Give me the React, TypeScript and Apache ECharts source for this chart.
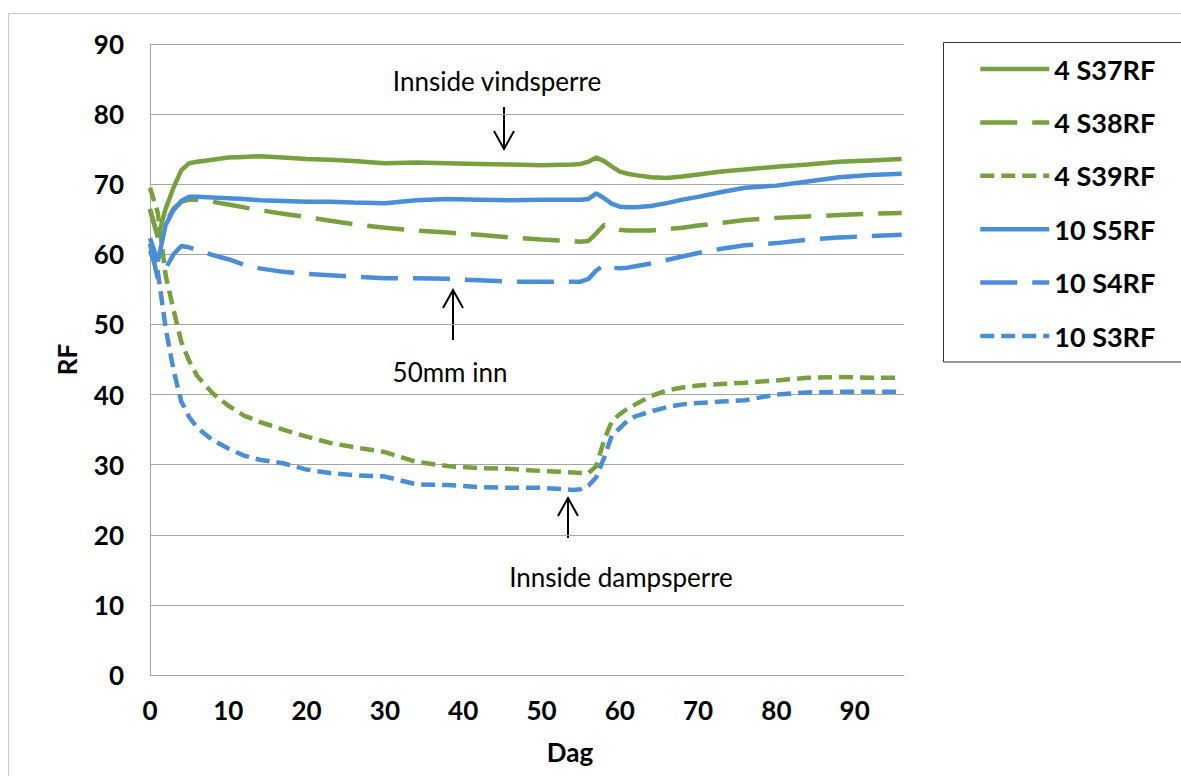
import React, { useEffect, useRef } from "react";
import * as echarts from "echarts";

const days = [0, 1, 2, 3, 4, 5, 6, 8, 10, 12, 14, 17, 20, 23, 26, 30, 34, 38, 42, 46, 50, 54, 55, 56, 57, 58, 59, 60, 61, 62, 64, 66, 68, 70, 73, 76, 80, 84, 88, 92, 96];

const s37 = [66.3, 62.5, 66.5, 69.5, 72.0, 73.0, 73.2, 73.5, 73.8, 73.9, 74.0, 73.8, 73.6, 73.5, 73.3, 73.0, 73.1, 73.0, 72.9, 72.8, 72.7, 72.8, 72.9, 73.2, 73.8, 73.3, 72.5, 71.8, 71.5, 71.3, 71.0, 70.9, 71.1, 71.4, 71.8, 72.1, 72.5, 72.8, 73.2, 73.4, 73.6];
const s38 = [66.5, 62.5, 64.5, 66.5, 67.5, 67.8, 67.8, 67.5, 67.1, 66.7, 66.3, 65.8, 65.3, 64.8, 64.3, 63.8, 63.4, 63.1, 62.8, 62.4, 62.1, 61.9, 61.8, 61.9, 63.0, 64.2, 63.8, 63.5, 63.4, 63.4, 63.4, 63.6, 63.8, 64.1, 64.5, 64.9, 65.2, 65.4, 65.6, 65.8, 65.9];
const s39 = [69.5, 65.9, 57.0, 52.1, 47.5, 44.8, 42.7, 40.2, 38.4, 37.0, 36.1, 35.0, 34.0, 33.1, 32.5, 31.8, 30.4, 29.8, 29.5, 29.4, 29.1, 28.9, 28.8, 28.8, 29.8, 33.5, 36.2, 37.2, 38.0, 38.6, 39.8, 40.6, 41.0, 41.3, 41.5, 41.7, 42.0, 42.4, 42.5, 42.4, 42.4];
const s5 = [62.3, 59.0, 64.2, 66.3, 67.6, 68.2, 68.2, 68.1, 68.0, 67.9, 67.7, 67.6, 67.5, 67.5, 67.4, 67.3, 67.7, 67.9, 67.8, 67.7, 67.8, 67.8, 67.8, 67.9, 68.7, 68.0, 67.2, 66.8, 66.7, 66.7, 66.9, 67.3, 67.8, 68.2, 68.9, 69.5, 69.8, 70.4, 71.0, 71.3, 71.5];
const s4 = [61.5, 56.5, 58.0, 60.0, 61.2, 61.0, 60.6, 59.9, 59.3, 58.5, 58.0, 57.5, 57.2, 57.0, 56.8, 56.6, 56.6, 56.5, 56.3, 56.1, 56.1, 56.1, 56.1, 56.5, 57.7, 58.5, 58.1, 58.0, 58.1, 58.3, 58.7, 59.2, 59.7, 60.2, 60.8, 61.3, 61.6, 62.1, 62.4, 62.6, 62.8];
const s3 = [60.5, 57.5, 49.5, 43.5, 39.0, 36.8, 35.3, 33.5, 32.3, 31.3, 30.7, 30.2, 29.3, 28.8, 28.5, 28.3, 27.2, 27.1, 26.8, 26.7, 26.7, 26.4, 26.5, 27.0, 28.2, 31.0, 34.2, 35.2, 36.3, 36.9, 37.6, 38.2, 38.6, 38.8, 39.0, 39.2, 40.0, 40.3, 40.4, 40.4, 40.4];

const seriesNames = ["4 S37RF", "4 S38RF", "4 S39RF", "10 S5RF", "10 S4RF", "10 S3RF"];
const seriesValues = [s37, s38, s39, s5, s4, s3];

const GREEN = "#77A13E";
const BLUE = "#4A8ED8";
const seriesColors = [GREEN, GREEN, GREEN, BLUE, BLUE, BLUE];
const LONG_DASH = [37, 15];
const SHORT_DASH = [14, 7];
const seriesDash: any[] = ["solid", LONG_DASH, SHORT_DASH, "solid", LONG_DASH, SHORT_DASH];

const FONT = "Lato, 'Noto Sans', sans-serif";

export default function App() {
  const ref = useRef<HTMLDivElement>(null);

  useEffect(() => {
    if (!ref.current) return;
    const chart = echarts.init(ref.current, undefined, { renderer: "svg" });

    const series = seriesNames.map((name, i) => ({
      name,
      type: "line",
      data: days.map((d, k) => [d, seriesValues[i][k]]),
      symbol: "none",
      showSymbol: false,
      smooth: false,
      lineStyle: { color: seriesColors[i], width: 4.5, type: seriesDash[i] },
      itemStyle: { color: seriesColors[i] },
    }));

    const arrow = (x: number, y1: number, y2: number, up: boolean) => {
      const tip = up ? y1 : y2;
      const back = up ? tip + 18 : tip - 18;
      return [
        { type: "line", shape: { x1: x, y1, x2: x, y2 }, style: { stroke: "#000", lineWidth: 2 } },
        { type: "polyline", shape: { points: [[x - 10, back], [x, tip], [x + 10, back]] }, style: { stroke: "#000", lineWidth: 2, fill: "none" } },
      ];
    };

    const option: any = {
      animation: false,
      backgroundColor: "#fff",
      textStyle: { fontFamily: FONT },
      grid: { left: 150, right: 277, top: 44, bottom: 101, containLabel: false },
      xAxis: {
        type: "value",
        min: 0,
        max: 96.3,
        interval: 10,
        axisLine: { show: true, lineStyle: { color: "#A6A6A6", width: 1 } },
        axisTick: { show: false },
        splitLine: { show: false },
        axisLabel: { showMaxLabel: false, margin: 22, color: "#000", fontFamily: FONT, fontWeight: "bold", fontSize: 26 },
      },
      yAxis: {
        type: "value",
        min: 0,
        max: 90,
        interval: 10,
        name: "RF",
        nameLocation: "middle",
        nameRotate: 90,
        nameGap: 70,
        nameTextStyle: { color: "#000", fontFamily: FONT, fontWeight: "bold", fontSize: 26 },
        axisLine: { show: true, lineStyle: { color: "#A6A6A6", width: 1 } },
        axisTick: { show: false },
        splitLine: { show: true, lineStyle: { color: "#A6A6A6", width: 1 } },
        axisLabel: { margin: 26, color: "#000", fontFamily: FONT, fontWeight: "bold", fontSize: 26 },
      },
      legend: {
        orient: "vertical",
        left: 978,
        top: 54,
        padding: 0,
        itemWidth: 69,
        itemHeight: 14,
        itemGap: 23.4,
        itemStyle: { opacity: 0 },
        lineStyle: { width: 4.5 },
        textStyle: { color: "#000", fontFamily: FONT, fontWeight: "bold", fontSize: 27, lineHeight: 30 },
        data: seriesNames,
      },
      graphic: [
        { type: "rect", silent: true, shape: { x: 8.5, y: 13.5, width: 1200, height: 800 }, style: { fill: "none", stroke: "#C8C8C8", lineWidth: 1 }, z: -10 },
        { type: "rect", silent: true, shape: { x: 943.5, y: 42.5, width: 300, height: 319.5 }, style: { fill: "none", stroke: "#333", lineWidth: 1 } },
        { type: "text", x: 570, y: 752, style: { text: "Dag", font: `bold 26px ${FONT}`, fill: "#000", textAlign: "center", textVerticalAlign: "middle" } },
        { type: "text", x: 497, y: 81, style: { text: "Innside vindsperre", font: `26px ${FONT}`, fill: "#000", textAlign: "center", textVerticalAlign: "middle" } },
        { type: "text", x: 450, y: 372, style: { text: "50mm inn", font: `26px ${FONT}`, fill: "#000", textAlign: "center", textVerticalAlign: "middle" } },
        { type: "text", x: 621, y: 577, style: { text: "Innside dampsperre", font: `26px ${FONT}`, fill: "#000", textAlign: "center", textVerticalAlign: "middle" } },
        ...arrow(504, 107, 149, false),
        ...arrow(453, 290, 340, true),
        ...arrow(568, 498, 538, true),
      ],
      series,
    };

    chart.setOption(option);
    return () => chart.dispose();
  }, []);

  return (
    <div
      ref={ref}
      style={{ position: "fixed", left: 0, top: 0, width: 1181, height: 776, background: "#fff" }}
    />
  );
}
